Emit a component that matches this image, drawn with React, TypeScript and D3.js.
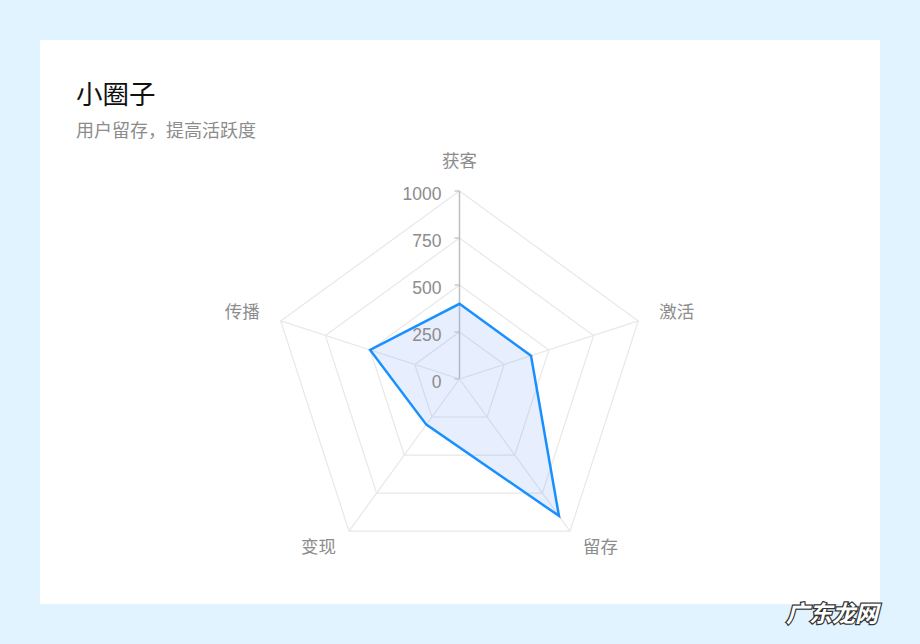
import { useEffect, useRef } from 'react'
import * as d3 from 'd3'

const WIDTH = 920
const HEIGHT = 644

// radar data
const indicators = ['获客', '激活', '留存', '变现', '传播']
const values = [400, 400, 900, 300, 500]
const ticks = [0, 250, 500, 750, 1000]
const MAX = 1000

const CENTER = { x: 459.5, y: 379 }
const RADIUS = 188
const FONT = '"Noto Sans CJK SC", "Noto Sans", sans-serif'
const NUM_FONT = '"Liberation Sans", Arial, sans-serif'

export default function App() {
  const svgRef = useRef<SVGSVGElement>(null)

  useEffect(() => {
    if (!svgRef.current) return
    const svg = d3.select(svgRef.current)
    svg.selectAll('*').remove()

    // page background + card
    svg.append('rect').attr('width', WIDTH).attr('height', HEIGHT).attr('fill', '#E1F3FE')
    svg.append('rect').attr('x', 40).attr('y', 40).attr('width', 840).attr('height', 564).attr('fill', '#fff')

    svg.append('text')
      .attr('x', 76)
      .attr('y', 104)
      .attr('fill', '#111')
      .attr('font-size', 26.5)
      .attr('font-family', FONT)
      .text('小圈子')

    svg.append('text')
      .attr('x', 76)
      .attr('y', 137)
      .attr('fill', '#8c8c8c')
      .attr('font-size', 18)
      .attr('font-family', FONT)
      .text('用户留存，提高活跃度')

    const r = d3.scaleLinear().domain([0, MAX]).range([0, RADIUS])
    const angle = d3.scaleLinear().domain([0, indicators.length]).range([0, 2 * Math.PI])
    // point on axis i at value v, angle measured clockwise from top
    const pt = (i: number, v: number): [number, number] => {
      const a = angle(i)
      return [CENTER.x + r(v) * Math.sin(a), CENTER.y - r(v) * Math.cos(a)]
    }

    const g = svg.append('g')
    const line = d3.line<[number, number]>().curve(d3.curveLinearClosed)

    // grid rings
    ticks.slice(1).forEach((t) => {
      g.append('path')
        .attr('d', line(indicators.map((_, i) => pt(i, t))))
        .attr('fill', 'none')
        .attr('stroke', '#e8e8e8')
        .attr('stroke-width', 1.2)
    })

    // spokes
    indicators.forEach((_, i) => {
      const [x, y] = pt(i, MAX)
      g.append('line')
        .attr('x1', CENTER.x).attr('y1', CENTER.y)
        .attr('x2', x).attr('y2', y)
        .attr('stroke', i === 0 ? '#bfbfbf' : '#e8e8e8')
        .attr('stroke-width', i === 0 ? 1.5 : 1.2)
    })

    // data area
    const pts = values.map((v, i) => pt(i, v))
    g.append('path')
      .attr('d', line(pts))
      .attr('fill', '#5B8FF9')
      .attr('fill-opacity', 0.15)
      .attr('stroke', '#1890FF')
      .attr('stroke-width', 2.5)
      .attr('stroke-linejoin', 'miter')

    // tick marks + labels on the top axis
    ticks.forEach((t) => {
      const [x, y] = pt(0, t)
      g.append('line')
        .attr('x1', x - 5).attr('x2', x)
        .attr('y1', y).attr('y2', y)
        .attr('stroke', '#bfbfbf')
        .attr('stroke-width', 1.2)
      g.append('text')
        .attr('x', x - 18)
        .attr('y', y + 4)
        .attr('dominant-baseline', 'middle')
        .attr('text-anchor', 'end')
        .attr('fill', '#8c8c8c')
        .attr('font-size', 17.5)
        .attr('font-family', NUM_FONT)
        .text(t)
    })

    // indicator labels
    indicators.forEach((name, i) => {
      const a = angle(i)
      const sx = Math.sin(a)
      const pad = i === 0 ? 28 : 22
      const x = CENTER.x + (RADIUS + pad) * sx
      const y = CENTER.y - (RADIUS + pad) * Math.cos(a)
      g.append('text')
        .attr('x', x)
        .attr('y', y - 1)
        .attr('text-anchor', sx > 0.1 ? 'start' : sx < -0.1 ? 'end' : 'middle')
        .attr('dominant-baseline', 'middle')
        .attr('fill', '#8c8c8c')
        .attr('font-size', 17.5)
        .attr('font-family', FONT)
        .text(name)
    })

    // watermark
    svg.append('text')
      .attr('x', 786)
      .attr('y', 622)
      .attr('fill', '#fff')
      .attr('stroke', '#333')
      .attr('stroke-width', 2.5)
      .attr('paint-order', 'stroke')
      .attr('font-size', 23)
      .attr('font-weight', 'bold')
      .attr('font-style', 'italic')
      .attr('font-family', '"Noto Sans CJK SC", sans-serif')
      .text('广东龙网')
  }, [])

  return (
    <div style={{ position: 'absolute', left: 0, top: 0 }}>
      <svg ref={svgRef} width={WIDTH} height={HEIGHT} style={{ display: 'block' }} />
    </div>
  )
}
